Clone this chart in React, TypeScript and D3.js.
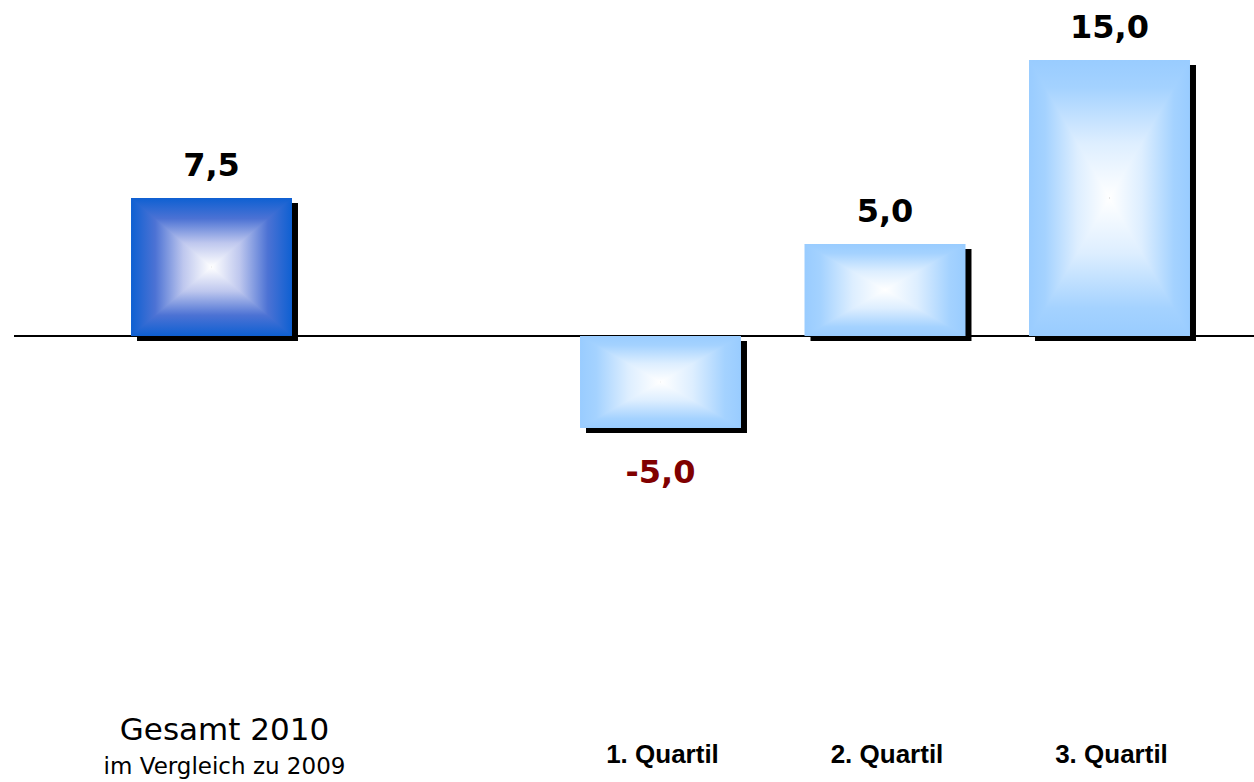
import React from "react";
import * as d3 from "d3";

// Changes in percent, 2010 vs 2009
const categories = ["Gesamt", "gap", "1. Quartil", "2. Quartil", "3. Quartil"];
const values: (number | null)[] = [7.5, null, -5.0, 5.0, 15.0];
const valueLabels = ["7,5", "", "-5,0", "5,0", "15,0"];
const schemes = ["dark", "", "light", "light", "light"];
const totalTitle = "Gesamt 2010";
const totalSubtitle = "im Vergleich zu 2009";

const W = 1254;
const H = 782;

const x = d3
  .scaleBand<string>()
  .domain(categories)
  .range([99.25, 1221.75])
  .paddingInner(0.283)
  .paddingOuter(0.1415);

const y = d3.scaleLinear().domain([0, 15]).range([336, 60]);

const gradientStops: Record<string, { o: number; c: string }[]> = {
  dark: [
    { o: 0, c: "#0E60D2" },
    { o: 0.3, c: "#4C72D4" },
    { o: 0.65, c: "#BEC7EE" },
    { o: 1, c: "#FFFFFF" },
  ],
  light: [
    { o: 0, c: "#99CCFF" },
    { o: 0.2, c: "#A4D2FF" },
    { o: 0.6, c: "#DDEEFF" },
    { o: 1, c: "#FFFFFF" },
  ],
};

// four directional gradients (edge colour -> white centre), bbox-relative
const directions: Record<string, [number, number, number, number]> = {
  l: [0, 0, 1, 0],
  r: [1, 0, 0, 0],
  t: [0, 0, 0, 1],
  b: [0, 1, 0, 0],
};

function GradientDefs() {
  return (
    <defs>
      {Object.keys(gradientStops).map((s) =>
        Object.entries(directions).map(([d, [x1, y1, x2, y2]]) => (
          <linearGradient key={s + d} id={`g-${s}-${d}`} x1={x1} y1={y1} x2={x2} y2={y2}>
            {gradientStops[s].map((st, i) => (
              <stop key={i} offset={st.o} stopColor={st.c} />
            ))}
          </linearGradient>
        ))
      )}
    </defs>
  );
}

// rectangular "from centre" fill built from two halves and two triangles
function RectGradientBar({ x0, y0, w, h, scheme }: { x0: number; y0: number; w: number; h: number; scheme: string }) {
  const cx = x0 + w / 2;
  const cy = y0 + h / 2;
  const x1 = x0 + w;
  const y1 = y0 + h;
  return (
    <g>
      <rect x={x0} y={y0} width={w / 2} height={h} fill={`url(#g-${scheme}-l)`} />
      <rect x={cx} y={y0} width={w / 2} height={h} fill={`url(#g-${scheme}-r)`} />
      <path d={`M${x0},${y0}L${x1},${y0}L${cx},${cy}Z`} fill={`url(#g-${scheme}-t)`} />
      <path d={`M${x0},${y1}L${x1},${y1}L${cx},${cy}Z`} fill={`url(#g-${scheme}-b)`} />
    </g>
  );
}

export default function App() {
  const bw = x.bandwidth();
  const zero = y(0);
  const shadowDx = 6;
  const shadowDy = 5;

  const bars = categories
    .map((c, i) => ({ c, v: values[i], label: valueLabels[i], scheme: schemes[i] }))
    .filter((d) => d.v !== null) as { c: string; v: number; label: string; scheme: string }[];

  return (
    <svg
      width={W}
      height={H}
      style={{ position: "absolute", left: 0, top: 0, background: "#fff" }}
    >
      <GradientDefs />
      <line x1={14} x2={W} y1={zero} y2={zero} stroke="#000" strokeWidth={2} />
      {bars.map((d) => {
        const x0 = x(d.c)!;
        const top = Math.min(y(d.v), zero);
        const h = Math.abs(y(d.v) - zero);
        return (
          <g key={d.c}>
            <rect x={x0 + shadowDx} y={top + shadowDy} width={bw} height={h} fill="#000" />
            <RectGradientBar x0={x0} y0={top} w={bw} h={h} scheme={d.scheme} />
            <text
              x={x0 + bw / 2}
              y={d.v >= 0 ? y(d.v) - 22 : y(d.v) + 55}
              textAnchor="middle"
              fontFamily="'DejaVu Sans', Verdana, sans-serif"
              fontWeight="bold"
              fontSize={32}
              fill={d.v >= 0 ? "#000" : "#800000"}
            >
              {d.label}
            </text>
          </g>
        );
      })}
      {/* category labels */}
      <g fontFamily="'DejaVu Sans', Verdana, sans-serif" fill="#000">
        <text x={x("Gesamt")! + bw / 2 + 13} y={740} textAnchor="middle" fontSize={31}>
          {totalTitle}
        </text>
        <text x={x("Gesamt")! + bw / 2 + 13} y={774} textAnchor="middle" fontSize={23}>
          {totalSubtitle}
        </text>
      </g>
      <g fontFamily="'Liberation Sans', Arial, sans-serif" fontWeight="bold" fontSize={26} fill="#000">
        {categories.slice(2).map((c) => (
          <text key={c} x={x(c)! + bw / 2 + 2} y={763} textAnchor="middle">
            {c}
          </text>
        ))}
      </g>
    </svg>
  );
}
